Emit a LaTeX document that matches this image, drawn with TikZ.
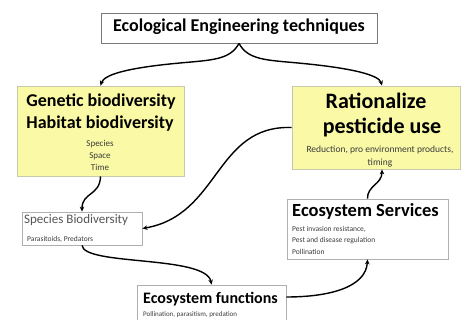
\documentclass[tikz,border=0pt]{standalone}
\usepackage{fontspec}
\setmainfont{Carlito}
\usetikzlibrary{arrows.meta}
\definecolor{ylw}{RGB}{249,249,166}
\definecolor{ybord}{RGB}{200,200,170}
\definecolor{gbord}{RGB}{175,175,175}
\definecolor{tbord}{RGB}{120,120,120}
\definecolor{txtg}{RGB}{85,85,85}
\definecolor{txts}{RGB}{60,60,60}
\begin{document}
\begin{tikzpicture}[x=1pt,y=-1pt,
  box/.style={draw=gbord, line width=0.8pt, inner sep=0, fill=white},
  ybox/.style={draw=ybord, fill=ylw, line width=0.8pt, inner sep=0},
  lbl/.style={inner sep=0, text height=0.64em, text depth=0pt},
  conn/.style={line width=1.4pt, -{Stealth[length=5pt,width=4.5pt]}},
  big/.style={font=\bfseries\fontsize{18}{20}\selectfont},
  small/.style={font=\fontsize{7.5}{9}\selectfont, text=txts}
]
\useasboundingbox (0,0) rectangle (466,320);
\clip (0,0) rectangle (466,320);
\fill[white] (0,0) rectangle (466,320);

% boxes
\node[box, draw=tbord, minimum width=276pt, minimum height=30pt] (tech) at (239,28) {};
\node[ybox, minimum width=167pt, minimum height=90pt] (gen) at (100.5,131) {};
\node[ybox, minimum width=168pt, minimum height=83pt] (rat) at (376,127.5) {};
\node[box, minimum width=120pt, minimum height=33pt] (sb) at (82,228.5) {};
\node[box, minimum width=161pt, minimum height=60pt] (es) at (367.5,229) {};
\node[box, minimum width=149pt, minimum height=40pt] (ef) at (211.5,305) {};

% texts
\node[lbl, big] (techT) at (239,28) {Ecological Engineering techniques};
\node[lbl, big] (genT) at (101,103) {Genetic biodiversity};
\node[lbl, big] (habT) at (100,125) {Habitat biodiversity};
\node[lbl, font=\fontsize{9}{10}\selectfont, text=txts] (spT) at (100,143) {Species};
\node[lbl, font=\fontsize{9}{10}\selectfont, text=txts] (spaT) at (100,155) {Space};
\node[lbl, font=\fontsize{9}{10}\selectfont, text=txts] (timeT) at (100,167) {Time};

\node[lbl, font=\bfseries\fontsize{22}{24}\selectfont] (ratT) at (376,105) {Rationalize};
\node[lbl, font=\bfseries\fontsize{22}{24}\selectfont] (pestT) at (382,130) {pesticide use};
\node[lbl, font=\fontsize{9.5}{11}\selectfont, text=txts] (redT) at (380,149) {Reduction, pro environment products,};
\node[lbl, font=\fontsize{9.5}{11}\selectfont, text=txts] (timingT) at (380,162) {timing};

\node[lbl, anchor=west, text=txtg, font=\fontsize{13}{15}\selectfont] (sbT) at (24,220) {Species Biodiversity};
\node[lbl, anchor=west, small] (sbS) at (27,238) {Parasitoids, Predators};

\node[lbl, anchor=west, font=\bfseries\fontsize{18.5}{20}\selectfont] (esT) at (292,213) {Ecosystem Services};
\node[lbl, anchor=west, small] (esS1) at (292,228) {Pest invasion resistance,};
\node[lbl, anchor=west, small] (esS2) at (292,239.5) {Pest and disease regulation};
\node[lbl, anchor=west, small] (esS3) at (292,251) {Pollination};

\node[lbl, anchor=west, font=\bfseries\fontsize{16}{18}\selectfont] (efT) at (143,300) {Ecosystem functions};
\node[lbl, anchor=west, font=\fontsize{7}{8}\selectfont, text=txts] (efS) at (143,313) {Pollination, parasitism, predation};

% connectors
\draw[conn] (tech.south) .. controls (230,60) and (212,60) .. (180,63) .. controls (125,68) and (104,75) .. (gen.north);
\draw[conn] (tech.south) .. controls (248,60) and (266,60) .. (298,63) .. controls (352,68) and (379,75) .. ([xshift=6pt]rat.north);
\draw[conn] (gen.south) .. controls (100,196) and (82,192) .. (sb.north);
\draw[conn] (rat.west) .. controls (215,125) and (220,215) .. (sb.east);
\draw[conn] (sb.south) .. controls (84,266) and (206,255) .. (ef.north);
\draw[conn] ([yshift=8pt]ef.east) .. controls (330,297) and (366,287) .. (es.south);
\draw[conn] (es.north) .. controls (367,186) and (382,184) .. ([xshift=6pt]rat.south);
\end{tikzpicture}
\end{document}
